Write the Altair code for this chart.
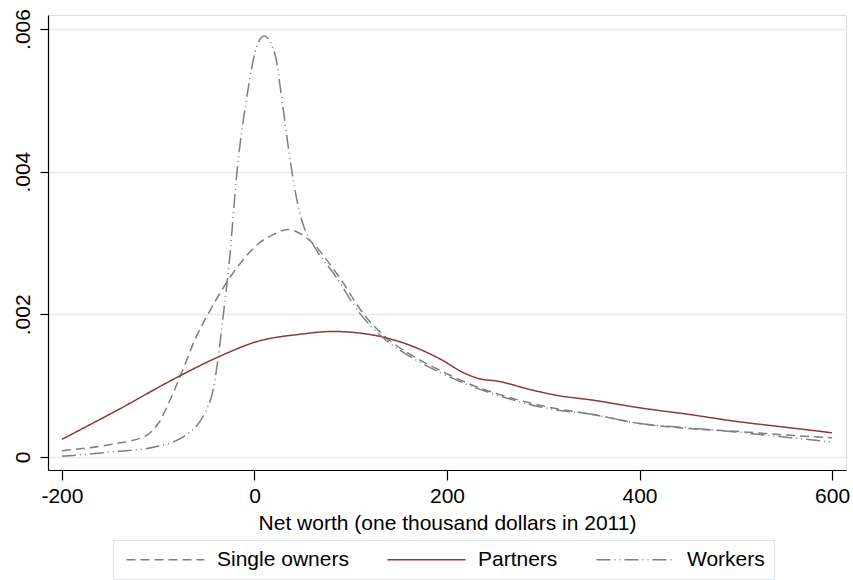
import altair as alt
import pandas as pd

# Single owners
so_x = [-200, -148, -114, -100, -86, -76, -62, -48, -19, 5, 20, 34, 57, 85, 116,
        133, 164, 192, 226, 261, 309, 350, 400, 450, 500, 550, 600]
so_y = [0.000089, 0.00018, 0.00029, 0.00047, 0.00085, 0.00117, 0.00164, 0.00201, 0.00264,
        0.0030, 0.00312, 0.00319, 0.00304, 0.00258, 0.00196,
        0.00172, 0.00142, 0.00122, 0.00101, 0.00085, 0.00069, 0.0006, 0.00047, 0.0004,
        0.00036, 0.00031, 0.00027]

# Partners
pa_x = [-200, -142, -80, -38, 3, 47, 81, 123, 150, 192, 219, 233, 254, 288, 316, 350,
        400, 450, 500, 550, 600]
pa_y = [0.000248, 0.00066, 0.00112, 0.0014, 0.00162, 0.00172, 0.00176, 0.00171, 0.00162,
        0.00138, 0.00117, 0.0011, 0.00106, 0.00094, 0.00086, 0.0008, 0.00069, 0.0006,
        0.0005, 0.00042, 0.00034]

# Workers
wo_x = [-200, -150, -104, -69, -52, -43, -38, -33, -26, -18, -8, 2, 10, 21, 29, 36, 43.5,
        50, 60, 85, 109, 133, 164, 192, 226, 261, 309, 350, 400, 450, 500, 550, 600]
wo_y = [0.00001, 0.00007, 0.00014, 0.00033, 0.00061, 0.00094, 0.00136, 0.00192, 0.00276,
        0.00402, 0.00504, 0.00574, 0.0059, 0.00566, 0.00496, 0.00426, 0.00364, 0.00328,
        0.0030, 0.00252, 0.00202, 0.00168, 0.00139, 0.00119, 0.00099, 0.00083, 0.00067,
        0.0006, 0.00047, 0.00041, 0.00035, 0.00028, 0.00021]

series = ["Single owners", "Partners", "Workers"]
colors = ["#7f7f7f", "#90353b", "#7f7f7f"]
dashes = [[9, 5], [1, 0], [14, 4, 1, 4, 1, 4]]
x_ticks = [-200, 0, 200, 400, 600]
y_ticks = [0, 0.002, 0.004, 0.006]

rows = []
for name, xs, ys in [(series[0], so_x, so_y), (series[1], pa_x, pa_y), (series[2], wo_x, wo_y)]:
    for i, (a, b) in enumerate(zip(xs, ys)):
        rows.append({"series": name, "x": a, "y": b, "order": i})
df = pd.DataFrame(rows)

font = "Liberation Sans"
legend = alt.Legend(
    title=None, orient="none", legendX=65, legendY=525, direction="horizontal",
    symbolType="M-1,0L12,0", symbolSize=144, symbolStrokeWidth=1.5,
    labelFont=font, labelFontSize=21, labelColor="#000000", labelOffset=74,
    columnPadding=34, padding=9, strokeColor="#dde6e9", fillColor="#ffffff",
    labelLimit=300,
)

chart = alt.Chart(df).mark_line(strokeWidth=1.5, interpolate="monotone").encode(
    x=alt.X("x:Q", scale=alt.Scale(domain=[-214.5, 614.5], nice=False, zero=False),
            axis=alt.Axis(values=x_ticks, title="Net worth (one thousand dollars in 2011)",
                          grid=False, tickSize=10, labelPadding=5, titlePadding=6,
                          labelFontSize=21, titleFontSize=21, titleFontWeight="normal",
                          labelFont=font, titleFont=font, domainColor="#000000",
                          tickColor="#000000", labelColor="#000000", titleColor="#000000",
                          domainWidth=1.2, tickWidth=1.2,
                          labelExpr="replace(datum.label, '\u2212', '-')")),
    y=alt.Y("y:Q", scale=alt.Scale(domain=[-0.000182, 0.006196], nice=False, zero=False),
            axis=alt.Axis(values=y_ticks, title=None, grid=True, gridColor="#e3ecef",
                          gridWidth=1.5, tickSize=8, labelAngle=270, labelPadding=7,
                          labelFontSize=21, labelFont=font, labelColor="#000000",
                          domainColor="#000000", tickColor="#000000",
                          domainWidth=1.2, tickWidth=1.2,
                          labelExpr="datum.value == 0 ? '0' : replace(format(datum.value, '.3f'), '0.', '.')")),
    color=alt.Color("series:N", scale=alt.Scale(domain=series, range=colors), legend=legend),
    strokeDash=alt.StrokeDash("series:N", scale=alt.Scale(domain=series, range=dashes), legend=legend),
    order="order:Q",
).properties(
    width=798, height=455,
    autosize=alt.AutoSizeParams(type="none"),
    padding={"left": 48, "top": 15, "right": 7, "bottom": 110},
).configure_view(stroke=None).configure(background="#ffffff")

chart.save("out.html", embed_options={"renderer": "svg", "actions": False})
